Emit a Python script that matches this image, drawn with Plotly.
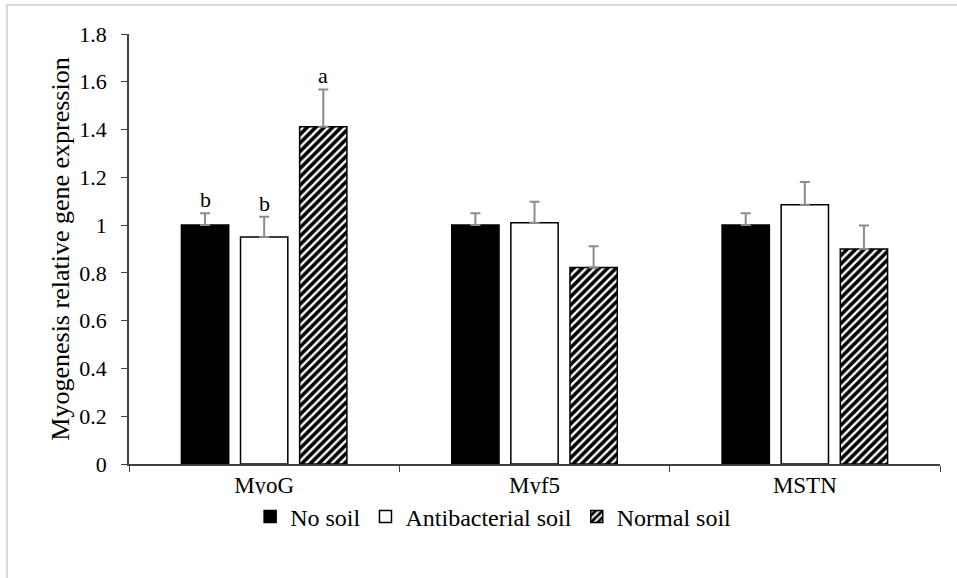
import plotly.graph_objects as go

categories = ["MyoG", "Myf5", "MSTN"]
series_names = ["No soil", "Antibacterial soil", "Normal soil"]
no_soil = [1.0, 1.0, 1.0]
no_soil_err = [0.05, 0.05, 0.05]
antibacterial = [0.95, 1.01, 1.085]
antibacterial_err = [0.085, 0.088, 0.095]
normal = [1.412, 0.823, 0.90]
normal_err = [0.156, 0.088, 0.098]
sig_letters = {("MyoG", 0): "b", ("MyoG", 1): "b", ("MyoG", 2): "a"}
y_ticks = [0, 0.2, 0.4, 0.6, 0.8, 1, 1.2, 1.4, 1.6, 1.8]
y_ticktext = ["0", "0.2", "0.4", "0.6", "0.8", "1", "1.2", "1.4", "1.6", "1.8"]

FONT = "Liberation Serif"
err_color = "#8c8c8c"

values = [no_soil, antibacterial, normal]
errors = [no_soil_err, antibacterial_err, normal_err]

fig = go.Figure()
styles = [
    dict(color="black", line=dict(color="black", width=1.5)),
    dict(color="white", line=dict(color="black", width=1.5)),
    dict(color="white", line=dict(color="black", width=1.5),
         pattern=dict(shape="/", fgcolor="black", bgcolor="white", fgopacity=1,
                      size=6, solidity=0.6)),
]
for name, v, e, st in zip(series_names, values, errors, styles):
    fig.add_trace(go.Bar(
        x=categories, y=v, name=name, marker=st,
        error_y=dict(type="data", array=e, arrayminus=[0] * len(e), symmetric=False,
                     visible=True, color=err_color, thickness=2, width=5),
    ))

bargap = 0.344
plot_w = 811
slot_px = plot_w / len(categories) * (1 - bargap) / 3
for (cat, i), letter in sig_letters.items():
    ci = categories.index(cat)
    fig.add_annotation(
        x=cat, y=values[i][ci] + errors[i][ci], text=letter, showarrow=False,
        xshift=(i - 1) * slot_px, yanchor="bottom", yshift=-1,
        font=dict(family=FONT, size=22, color="black"),
    )

# outer light border (top and left)
fig.add_shape(type="line", xref="paper", yref="paper", x0=-0.152, x1=1.03,
              y0=1.0674, y1=1.0674, line=dict(color="#d9d9d9", width=2))
fig.add_shape(type="line", xref="paper", yref="paper", x0=-0.1505, x1=-0.1505,
              y0=1.0674, y1=-0.3, line=dict(color="#d9d9d9", width=2))

fig.update_layout(
    width=957, height=578,
    margin=dict(l=129, r=17, t=34, b=114),
    paper_bgcolor="white", plot_bgcolor="white",
    barmode="group", bargap=bargap, bargroupgap=0.2,
    font=dict(family=FONT, size=22, color="black"),
    showlegend=True,
    legend=dict(orientation="h", x=0.449, xanchor="center", y=-0.123, yanchor="middle",
                font=dict(family=FONT, size=24, color="black"),
                itemwidth=30, tracegroupgap=0),
    xaxis=dict(
        showline=True, linecolor="#404040", linewidth=1.5,
        ticks="outside", tickson="boundaries", ticklen=6, tickcolor="#404040",
        tickfont=dict(family=FONT, size=23, color="black"),
        showgrid=False, mirror=False,
    ),
    yaxis=dict(
        range=[0, 1.8], tickvals=y_ticks, ticktext=y_ticktext,
        showline=True, linecolor="#404040", linewidth=1.5,
        ticks="outside", ticklen=6, tickcolor="#404040",
        tickfont=dict(family=FONT, size=22, color="black"),
        ticklabelstandoff=10,
        showgrid=False, zeroline=False,
        title=dict(text="Myogenesis relative gene expression",
                   font=dict(family=FONT, size=26, color="black"), standoff=2),
    ),
)

fig.write_html("out.html", post_script="document.body.style.margin='0';",
               config={"displayModeBar": False})
